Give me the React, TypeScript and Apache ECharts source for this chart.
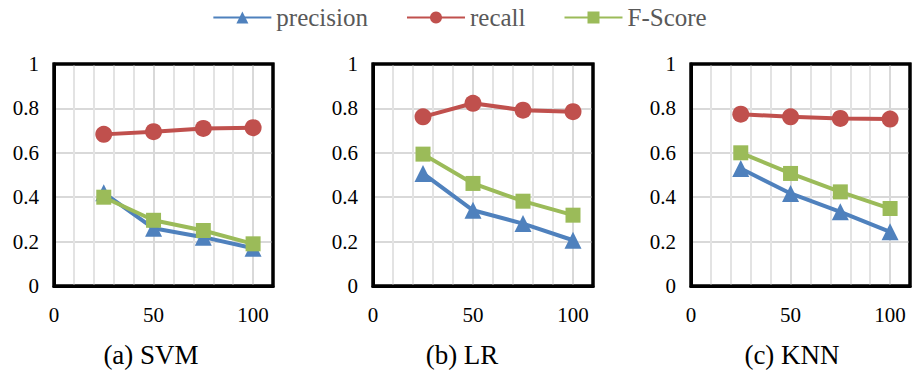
import React, { useEffect, useRef } from "react";
import * as echarts from "echarts";

const xValues = [25, 50, 75, 100];
const panelTitles = ["(a) SVM", "(b) LR", "(c) KNN"];
const seriesNames = ["precision", "recall", "F-Score"];

const svmPrecision = [0.42, 0.26, 0.22, 0.17];
const svmRecall = [0.683, 0.695, 0.71, 0.713];
const svmFScore = [0.4, 0.296, 0.25, 0.19];

const lrPrecision = [0.507, 0.341, 0.281, 0.206];
const lrRecall = [0.762, 0.823, 0.792, 0.785];
const lrFScore = [0.594, 0.462, 0.382, 0.319];

const knnPrecision = [0.529, 0.417, 0.334, 0.244];
const knnRecall = [0.774, 0.762, 0.755, 0.752];
const knnFScore = [0.6, 0.507, 0.424, 0.349];

const panelData = [
  [svmPrecision, svmRecall, svmFScore],
  [lrPrecision, lrRecall, lrFScore],
  [knnPrecision, knnRecall, knnFScore],
];

const colors = ["#4F81BD", "#C0504D", "#9BBB59"];
const symbols = ["triangle", "circle", "rect"];
const symbolSizes = [17, 17, 15];

const gridBoxes = [
  { left: 54, width: 219 },
  { left: 373, width: 220 },
  { left: 691, width: 219 },
];
const titleX = [151, 462, 792];

const FONT = "Liberation Serif";

export default function App() {
  const ref = useRef<HTMLDivElement>(null);
  useEffect(() => {
    if (!ref.current) return;
    const chart = echarts.init(ref.current, null, { renderer: "svg" });
    const grids = gridBoxes.map((g) => ({
      left: g.left,
      width: g.width,
      top: 64,
      height: 222,
      show: true,
      backgroundColor: "rgba(255,255,255,0)",
      borderColor: "#000",
      borderWidth: 3,
    }));
    const xAxes: any[] = gridBoxes.map((_, i) => ({
      type: "value",
      gridIndex: i,
      min: 0,
      max: 110,
      interval: 50,
      axisLine: { show: true, onZero: false, lineStyle: { color: "#000", width: 3 } },
      axisTick: { show: false },
      axisLabel: {
        showMaxLabel: false,
        margin: 18,
        fontSize: 21,
        color: "#000",
        fontFamily: FONT,
      },
      splitLine: { show: true, lineStyle: { color: "#D9D9D9", width: 2 } },
      minorTick: { show: false, splitNumber: 5 },
      minorSplitLine: { show: true, lineStyle: { color: "#E3E3E3", width: 2 } },
    }));
    const yAxes: any[] = gridBoxes.map((_, i) => ({
      type: "value",
      gridIndex: i,
      min: 0,
      max: 1,
      interval: 0.2,
      axisLine: { show: true, onZero: false, lineStyle: { color: "#000", width: 3 } },
      axisTick: { show: false },
      axisLabel: {
        margin: 15,
        fontSize: 21,
        color: "#000",
        fontFamily: FONT,
      },
      splitLine: { show: true, lineStyle: { color: "#D9D9D9", width: 2 } },
    }));
    const series: any[] = [];
    gridBoxes.forEach((_, gi) => {
      series.push({
        type: "custom",
        xAxisIndex: gi,
        yAxisIndex: gi,
        silent: true,
        z: 30,
        data: [[0, 0]],
        renderItem: (params: any) => {
          const cs = params.coordSys;
          return {
            type: "rect",
            shape: { x: cs.x, y: cs.y, width: cs.width, height: cs.height },
            style: { fill: "rgba(0,0,0,0)", stroke: "#000", lineWidth: 3 },
          };
        },
      });
    });
    panelData.forEach((panel, gi) => {
      panel.forEach((vals, si) => {
        series.push({
          type: "line",
          name: seriesNames[si],
          xAxisIndex: gi,
          yAxisIndex: gi,
          data: xValues.map((x, k) => [x, vals[k]]),
          symbol: symbols[si],
          symbolSize: symbolSizes[si],
          lineStyle: { color: colors[si], width: 4 },
          itemStyle: { color: colors[si] },
          z: 10 + si,
        });
      });
    });
    const titles = panelTitles.map((t, i) => ({
      type: "text",
      x: titleX[i],
      y: 355,
      style: {
        text: t,
        fontSize: 27,
        fontFamily: FONT,
        fill: "#000",
        textAlign: "center",
        textVerticalAlign: "middle",
      },
    }));
    chart.setOption({
      animation: false,
      textStyle: { fontFamily: FONT },
      legend: {
        top: 0,
        left: "center",
        data: seriesNames,
        itemWidth: 58,
        itemHeight: 15,
        itemGap: 38,
        textStyle: { fontSize: 25, color: "#595959", fontFamily: FONT },
      },
      grid: grids,
      xAxis: xAxes,
      yAxis: yAxes,
      series,
      graphic: titles,
    });
    return () => chart.dispose();
  }, []);
  return (
    <div
      ref={ref}
      style={{ position: "fixed", left: 0, top: 0, width: 919, height: 375, background: "#fff" }}
    />
  );
}
